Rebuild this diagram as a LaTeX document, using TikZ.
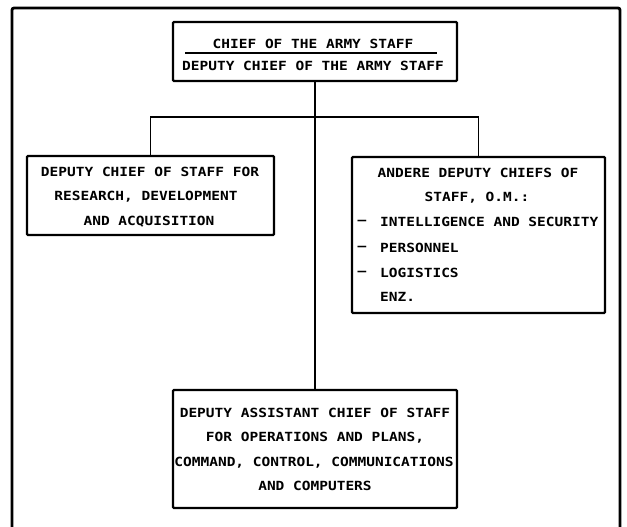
\documentclass[tikz,border=0pt]{standalone}
\usepackage{fontspec}
\newfontfamily\plotfont[FakeStretch=1.15]{DejaVu Sans Mono}
\begin{document}
\begin{tikzpicture}[x=1pt,y=-1pt,
  box/.style={draw, line width=2.3pt, rectangle, rounded corners=1pt, inner sep=0pt},
  conn/.style={line width=1.7pt},
  frame/.style={line width=2.8pt, rounded corners=2pt},
  txt/.style={font=\plotfont\bfseries\fontsize{12.6}{14}\selectfont, inner sep=0pt, anchor=center},
  ltxt/.style={txt, anchor=west}]
\useasboundingbox (0,0) rectangle (627,527);
\draw[frame] (12,530) -- (12,8) -- (620,8) -- (620,530);
% boxes
\node[box, minimum width=284pt, minimum height=59pt] (top) at (315,51.5) {};
\node[box, minimum width=247pt, minimum height=79pt] (lb) at (150.5,195.5) {};
\node[box, minimum width=253pt, minimum height=156pt] (rb) at (478.5,235) {};
\node[box, minimum width=284pt, minimum height=118pt] (bb) at (315,449) {};
% connectors
\coordinate (br) at (315,117);
\draw[conn] (top.south) -- (bb.north);
\draw[conn] (lb.north) -- (lb.north |- br) -- (rb.north |- br) -- (rb.north);
% top box
\node[txt] (t1) at (313,44) {CHIEF OF THE ARMY STAFF};
\draw[line width=1.7pt] (185,53) -- (437,53);
\node[txt] (t2) at (313,66) {DEPUTY CHIEF OF THE ARMY STAFF};
% left box
\node[txt] (l1) at (150,172) {DEPUTY CHIEF OF STAFF FOR};
\node[txt] (l2) at (146,197) {RESEARCH, DEVELOPMENT};
\node[txt] (l3) at (149,222) {AND ACQUISITION};
% right box
\node[txt] (r1) at (478,173) {ANDERE DEPUTY CHIEFS OF};
\node[txt] (r2) at (477,198) {STAFF, O.M.:};
\node[txt] (d3) at (362,222) {–};
\node[ltxt] (r3) at (380,222) {INTELLIGENCE AND SECURITY};
\node[txt] (d4) at (362,248) {–};
\node[ltxt] (r4) at (380,248) {PERSONNEL};
\node[txt] (d5) at (362,273) {–};
\node[ltxt] (r5) at (380,273) {LOGISTICS};
\node[ltxt] (r6) at (380,297) {ENZ.};
% bottom box
\node[txt] (b1) at (315,413) {DEPUTY ASSISTANT CHIEF OF STAFF};
\node[txt] (b2) at (315,438) {FOR OPERATIONS AND PLANS,};
\node[txt] (b3) at (314,463) {COMMAND, CONTROL, COMMUNICATIONS};
\node[txt] (b4) at (315,486) {AND COMPUTERS};
\end{tikzpicture}
\end{document}
